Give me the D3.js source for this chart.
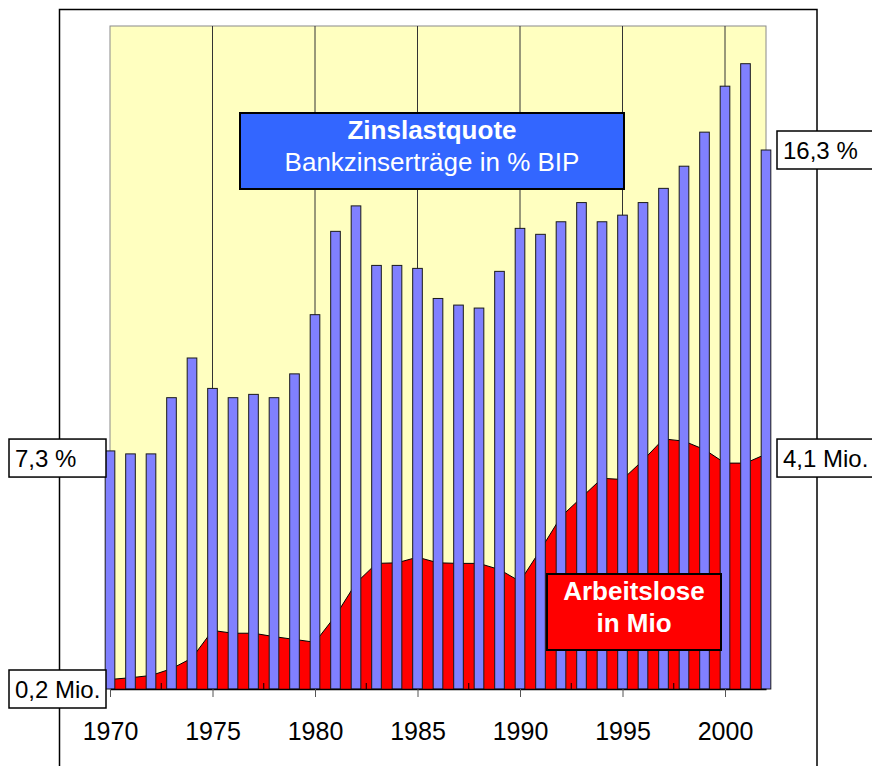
<!DOCTYPE html>
<html>
<head>
<meta charset="utf-8">
<script src="https://cdn.jsdelivr.net/npm/d3@7"></script>
<style>
  body { margin: 0; background: #fff; }
  svg { display: block; font-family: "Liberation Sans", Arial, sans-serif; }
</style>
</head>
<body>
<svg id="chart" width="872" height="766"></svg>
<script>
// years on the x axis
const years = [1970, 1971, 1972, 1973, 1974, 1975, 1976, 1977, 1978, 1979,
               1980, 1981, 1982, 1983, 1984, 1985, 1986, 1987, 1988, 1989,
               1990, 1991, 1992, 1993, 1994, 1995, 1996, 1997, 1998, 1999,
               2000, 2001, 2002];

// Zinslastquote: bank interest income in % of GDP (blue bars)
const zinslast = [7.20, 7.11, 7.11, 8.81, 10.01, 9.09, 8.81, 8.91, 8.81, 9.53,
                  11.32, 13.84, 14.61, 12.81, 12.81, 12.72, 11.81, 11.61, 11.52, 12.63,
                  13.93, 13.75, 14.13, 14.71, 14.13, 14.33, 14.71, 15.14, 15.81, 16.84,
                  18.23, 18.91, 16.30];

// Arbeitslose in Mio (red area)
const arbeitslose = [0.17, 0.20, 0.24, 0.36, 0.55, 1.04, 0.99, 0.99, 0.93, 0.88,
                     0.83, 1.30, 1.88, 2.23, 2.24, 2.34, 2.24, 2.23, 2.23, 2.12,
                     1.91, 2.47, 3.06, 3.40, 3.74, 3.72, 4.06, 4.44, 4.40, 4.25,
                     4.01, 4.01, 4.17];

const yearTicks = [1970, 1975, 1980, 1985, 1990, 1995, 2000];
const minorTicks = [1972.5, 1977.5, 1982.5, 1987.5, 1992.5, 1997.5];

const plot = {left: 110, right: 766, top: 26, bottom: 689};

svg = d3.select("#chart");

x = d3.scaleLinear().domain([1970, 2002]).range([plot.left, plot.right]);
yBlue = d3.scaleLinear().domain([0, 20.05]).range([plot.bottom, plot.top]);
yRed = d3.scaleLinear().domain([0, 11.77]).range([plot.bottom, plot.top]);

barW = (x(1971) - x(1970)) * 0.47;

// outer frame
svg.append("rect")
    .attr("x", 59.5).attr("y", 9.5)
    .attr("width", 757.5).attr("height", 800)
    .attr("fill", "#fff")
    .attr("stroke", "#000").attr("stroke-width", 1.5);

// plot background
svg.append("rect")
    .attr("x", plot.left).attr("y", plot.top)
    .attr("width", plot.right - plot.left).attr("height", plot.bottom - plot.top)
    .attr("fill", "#FFFFC0")
    .attr("stroke", "#8a8a8a").attr("stroke-width", 1);

// vertical gridlines
svg.append("g")
    .selectAll("line")
    .data(yearTicks.slice(1))
    .join("line")
    .attr("x1", d => x(d)).attr("x2", d => x(d))
    .attr("y1", plot.top).attr("y2", plot.bottom)
    .attr("stroke", "#333").attr("stroke-width", 1);

// unemployment area
rows = years.map((yr, i) => ({year: yr, z: zinslast[i], a: arbeitslose[i]}));

area = d3.area()
    .x(d => x(d.year))
    .y0(plot.bottom)
    .y1(d => yRed(d.a));
line = d3.line()
    .x(d => x(d.year))
    .y(d => yRed(d.a));

svg.append("path")
    .datum(rows)
    .attr("d", area)
    .attr("fill", "#FF0000");
svg.append("path")
    .datum(rows)
    .attr("d", line)
    .attr("fill", "none")
    .attr("stroke", "#000").attr("stroke-width", 1);

// minor ticks inside the plot
svg.append("g")
    .selectAll("line")
    .data(minorTicks)
    .join("line")
    .attr("x1", d => x(d)).attr("x2", d => x(d))
    .attr("y1", plot.bottom).attr("y2", plot.bottom - 6)
    .attr("stroke", "#000").attr("stroke-width", 1);

// bars
svg.append("g")
    .selectAll("rect")
    .data(rows)
    .join("rect")
    .attr("x", d => x(d.year) - barW / 2)
    .attr("y", d => yBlue(d.z))
    .attr("width", barW)
    .attr("height", d => plot.bottom - yBlue(d.z))
    .attr("fill", "#8080FF")
    .attr("stroke", "#1a1a1a").attr("stroke-width", 1);

// x axis
xAxis = d3.axisBottom(x)
    .tickValues(yearTicks)
    .tickFormat(d => d)
    .tickSize(8)
    .tickSizeOuter(0)
    .tickPadding(25);

gx = svg.append("g")
    .attr("transform", `translate(0,${plot.bottom})`)
    .call(xAxis);
gx.select(".domain").attr("stroke", "#000").attr("stroke-width", 1.5);
gx.selectAll(".tick line").attr("stroke", "#555");
gx.selectAll(".tick text")
    .attr("font-size", 25)
    .attr("font-family", "'Liberation Sans', Arial, sans-serif")
    .attr("fill", "#000");

// side value labels
sideLabels = [
    {text: "16,3 %", x: 777, y: yBlue(16.3)},
    {text: "4,1 Mio.", x: 777, y: yRed(4.1)},
    {text: "7,3 %", x: 9, y: yRed(4.1)},
    {text: "0,2 Mio.", x: 9, y: plot.bottom}
];

lab = svg.append("g")
    .selectAll("g")
    .data(sideLabels)
    .join("g")
    .attr("transform", d => `translate(${d.x},${d.y})`);
lab.append("rect")
    .attr("x", 0).attr("y", -19)
    .attr("width", 97).attr("height", 38)
    .attr("fill", "#fff")
    .attr("stroke", "#000").attr("stroke-width", 1.5);
lab.append("text")
    .attr("x", 6).attr("y", 9)
    .attr("font-size", 24)
    .text(d => d.text);

// title box
tb = svg.append("g");
tb.append("rect")
    .attr("x", 240).attr("y", 113)
    .attr("width", 384).attr("height", 76)
    .attr("fill", "#3366FF")
    .attr("stroke", "#000").attr("stroke-width", 2);
tb.append("text")
    .attr("x", 432).attr("y", 139)
    .attr("text-anchor", "middle")
    .attr("font-size", 26).attr("font-weight", "bold")
    .attr("fill", "#fff")
    .text("Zinslastquote");
tb.append("text")
    .attr("x", 432).attr("y", 171)
    .attr("text-anchor", "middle")
    .attr("font-size", 26)
    .attr("fill", "#fff")
    .text("Bankzinserträge in % BIP");

// unemployment box
rb = svg.append("g");
rb.append("rect")
    .attr("x", 547).attr("y", 574)
    .attr("width", 174).attr("height", 76)
    .attr("fill", "#FF0000")
    .attr("stroke", "#000").attr("stroke-width", 2);
rb.append("text")
    .attr("x", 634).attr("y", 600)
    .attr("text-anchor", "middle")
    .attr("font-size", 26).attr("font-weight", "bold")
    .attr("fill", "#fff")
    .text("Arbeitslose");
rb.append("text")
    .attr("x", 634).attr("y", 632)
    .attr("text-anchor", "middle")
    .attr("font-size", 26).attr("font-weight", "bold")
    .attr("fill", "#fff")
    .text("in Mio");
</script>
</body>
</html>
